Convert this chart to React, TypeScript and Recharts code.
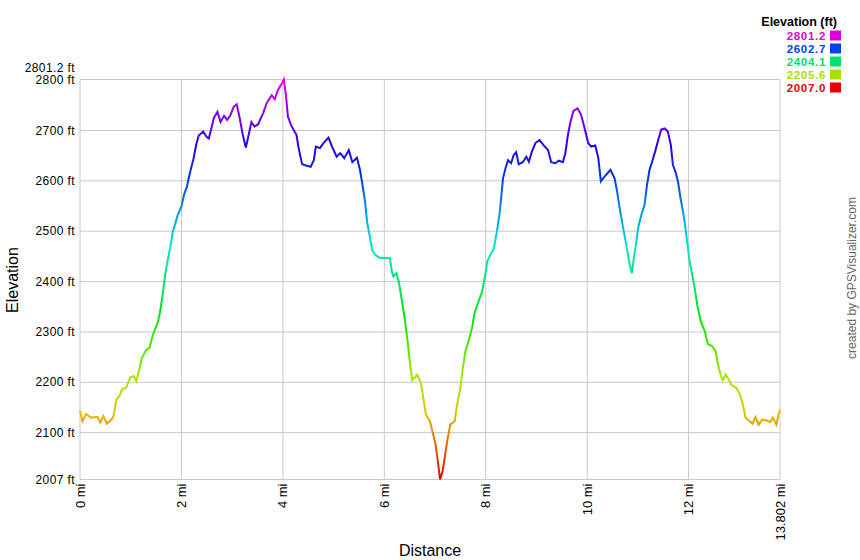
import { LineChart, Line, XAxis, YAxis, CartesianGrid } from 'recharts';

// distance along the track (mi) and elevation (ft)
const DISTANCE = [
  0.0, 0.05, 0.12, 0.21, 0.35, 0.4, 0.46, 0.53, 0.62, 0.66, 0.72, 0.78, 0.83, 0.91, 0.99,
  1.06, 1.11, 1.16, 1.22, 1.31, 1.37, 1.44, 1.54, 1.58, 1.64, 1.68, 1.73, 1.79, 1.83, 1.89,
  1.93, 2.0, 2.05, 2.11, 2.15, 2.19, 2.24, 2.29, 2.34, 2.43, 2.49, 2.54, 2.59, 2.64, 2.71,
  2.77, 2.84, 2.9, 2.96, 3.03, 3.09, 3.15, 3.21, 3.27, 3.31, 3.38, 3.44, 3.51, 3.55, 3.61,
  3.68, 3.78, 3.84, 3.9, 3.98, 4.02, 4.06, 4.1, 4.16, 4.23, 4.27, 4.3, 4.34, 4.38, 4.47,
  4.55, 4.61, 4.65, 4.73, 4.8, 4.9, 4.97, 5.06, 5.13, 5.21, 5.3, 5.37, 5.46, 5.52, 5.57,
  5.62, 5.66, 5.72, 5.76, 5.82, 5.91, 6.05, 6.11, 6.15, 6.18, 6.24, 6.29, 6.36, 6.41, 6.46,
  6.51, 6.55, 6.65, 6.72, 6.77, 6.82, 6.9, 7.01, 7.06, 7.1, 7.15, 7.19, 7.24, 7.3, 7.39,
  7.43, 7.5, 7.55, 7.6, 7.66, 7.73, 7.78, 7.86, 7.93, 7.98, 8.03, 8.09, 8.16, 8.22, 8.27,
  8.31, 8.34, 8.39, 8.44, 8.5, 8.55, 8.6, 8.65, 8.73, 8.8, 8.85, 8.91, 8.98, 9.06, 9.14,
  9.23, 9.29, 9.37, 9.44, 9.52, 9.57, 9.62, 9.67, 9.73, 9.81, 9.88, 9.94, 10.02, 10.08, 10.16,
  10.22, 10.27, 10.33, 10.4, 10.46, 10.54, 10.59, 10.64, 10.71, 10.77, 10.84, 10.88, 10.92, 10.97, 11.01,
  11.07, 11.13, 11.18, 11.23, 11.28, 11.34, 11.4, 11.46, 11.53, 11.59, 11.65, 11.69, 11.74, 11.79, 11.84,
  11.89, 11.93, 11.97, 12.02, 12.07, 12.12, 12.17, 12.24, 12.32, 12.38, 12.46, 12.53, 12.58, 12.63, 12.67,
  12.73, 12.79, 12.85, 12.94, 13.01, 13.07, 13.12, 13.2, 13.26, 13.32, 13.38, 13.45, 13.54, 13.61, 13.66,
  13.73, 13.78, 13.802,
];
const ELEVATION = [
  2144, 2123, 2137, 2130, 2131, 2120, 2133, 2118, 2126, 2133, 2166, 2173, 2186, 2189, 2210,
  2212, 2202, 2222, 2248, 2265, 2268, 2295, 2321, 2341, 2381, 2414, 2443, 2473, 2499, 2519,
  2533, 2549, 2572, 2589, 2608, 2625, 2645, 2671, 2690, 2698, 2688, 2684, 2704, 2725, 2737,
  2717, 2729, 2721, 2729, 2747, 2752, 2724, 2691, 2666, 2684, 2717, 2708, 2712, 2721, 2734,
  2754, 2770, 2762, 2780, 2793, 2801.2, 2770, 2727, 2711, 2698, 2691, 2671, 2651, 2633, 2630,
  2628, 2641, 2668, 2665, 2675, 2686, 2668, 2648, 2655, 2645, 2661, 2637, 2646, 2622, 2592,
  2559, 2519, 2486, 2463, 2453, 2447, 2447, 2447, 2420, 2410, 2417, 2397, 2354, 2321, 2281,
  2235, 2204, 2215, 2199, 2169, 2136, 2123, 2077, 2040, 2007, 2024, 2050, 2083, 2116, 2123,
  2153, 2189, 2229, 2262, 2281, 2308, 2338, 2361, 2381, 2407, 2440, 2453, 2466, 2499, 2533,
  2572, 2605, 2625, 2641, 2635, 2651, 2657, 2633, 2637, 2648, 2638, 2658, 2675, 2681, 2671,
  2661, 2637, 2635, 2640, 2637, 2655, 2691, 2717, 2739, 2744, 2731, 2708, 2675, 2668, 2670,
  2645, 2599, 2607, 2615, 2622, 2605, 2579, 2546, 2506, 2473, 2433, 2417, 2447, 2480, 2509,
  2533, 2552, 2592, 2622, 2638, 2658, 2681, 2702, 2704, 2698, 2671, 2632, 2618, 2599, 2566,
  2539, 2513, 2480, 2440, 2414, 2387, 2354, 2321, 2301, 2276, 2272, 2262, 2235, 2215, 2204,
  2215, 2206, 2194, 2189, 2176, 2156, 2130, 2123, 2118, 2131, 2116, 2126, 2124, 2121, 2130,
  2116, 2139, 2146,
];

const X_TICKS = [0, 2, 4, 6, 8, 10, 12, 13.802];
const Y_TICKS = [2007, 2100, 2200, 2300, 2400, 2500, 2600, 2700, 2800, 2801.2];
const Y_GRID = [2007, 2100, 2200, 2300, 2400, 2500, 2600, 2700, 2801.2];

const LEGEND_VALUES = ['2801.2', '2602.7', '2404.1', '2205.6', '2007.0'];
const LEGEND_COLORS = ['#dd00dd', '#0040ee', '#00e070', '#aade00', '#e80000'];

const FONT = '"Liberation Sans", Arial, sans-serif';

const data = DISTANCE.map((d, i) => ({ dist: d, ele: ELEVATION[i] }));

// hue ramp: magenta at the top of the range down to red at the bottom
const STOPS = Array.from({ length: 13 }, (_, i) => i / 12);

function YTick(props: any) {
  const { x, y, payload } = props;
  const v = payload.value as number;
  // top label is nudged up so it doesn't sit on the 2800 label
  const shift = v === 2801.2 ? -12 : 0;
  return (
    <text
      x={x}
      y={y + shift}
      dy="0.35em"
      textAnchor="end"
      fontSize={12}
      letterSpacing={0.4}
      fill="#000"
      fontFamily={FONT}
    >
      {`${v} ft`}
    </text>
  );
}

function XTick(props: any) {
  const { x, y, payload } = props;
  return (
    <text
      x={x}
      y={y}
      dy="0.35em"
      textAnchor="end"
      fontSize={13}
      fill="#000"
      fontFamily={FONT}
      transform={`rotate(-90, ${x}, ${y})`}
    >
      {`${payload.value} mi`}
    </text>
  );
}

export default function App() {
  return (
    <div style={{ position: 'absolute', left: 0, top: 0, width: 860, height: 560, background: '#fff' }}>
      <LineChart
        width={860}
        height={560}
        data={data}
        margin={{ top: 79.5, right: 80, bottom: 20.5, left: 0 }}
      >
        <defs>
          <linearGradient id="eleGrad" x1="0" y1="0" x2="0" y2="1">
            {STOPS.map((o) => (
              <stop key={o} offset={o} stopColor={`hsl(${300 - 300 * o}, 100%, 45%)`} />
            ))}
          </linearGradient>
        </defs>
        <CartesianGrid
          stroke="#c8c8c8"
          strokeWidth={1}
          horizontalValues={Y_GRID}
          verticalValues={X_TICKS}
        />
        <XAxis
          dataKey="dist"
          type="number"
          domain={[0, 13.802]}
          ticks={X_TICKS}
          height={60}
          axisLine={false}
          tickLine={false}
          tickSize={0}
          tickMargin={4}
          interval={0}
          tick={<XTick />}
        />
        <YAxis
          type="number"
          domain={[2007, 2801.2]}
          ticks={Y_TICKS}
          width={80}
          axisLine={false}
          tickLine={false}
          tickSize={0}
          tickMargin={5}
          interval={0}
          tick={<YTick />}
        />
        <Line
          type="linear"
          dataKey="ele"
          stroke="url(#eleGrad)"
          strokeWidth={2}
          dot={false}
          isAnimationActive={false}
        />
      </LineChart>
      <svg
        width={860}
        height={560}
        style={{ position: 'absolute', left: 0, top: 0, pointerEvents: 'none' }}
        fontFamily={FONT}
      >
        <text x={837} y={26} textAnchor="end" fontSize={12.5} fontWeight="bold" fill="#000">
          Elevation (ft)
        </text>
        {LEGEND_VALUES.map((v, i) => (
          <g key={v}>
            <text
              x={826}
              y={40 + i * 13}
              textAnchor="end"
              fontSize={11.5}
              letterSpacing={0.7}
              fontWeight="bold"
              fill={LEGEND_COLORS[i]}
            >
              {v}
            </text>
            <rect x={830} y={30.5 + i * 13} width={11} height={10} fill={LEGEND_COLORS[i]} />
          </g>
        ))}
        <text x={430} y={556} textAnchor="middle" fontSize={16} fill="#000">
          Distance
        </text>
        <text x={18} y={280} textAnchor="middle" fontSize={16} fill="#000" transform="rotate(-90, 18, 280)">
          Elevation
        </text>
        <text x={856} y={278} textAnchor="middle" fontSize={12} fill="#666" transform="rotate(-90, 856, 278)">
          created by GPSVisualizer.com
        </text>
      </svg>
    </div>
  );
}
